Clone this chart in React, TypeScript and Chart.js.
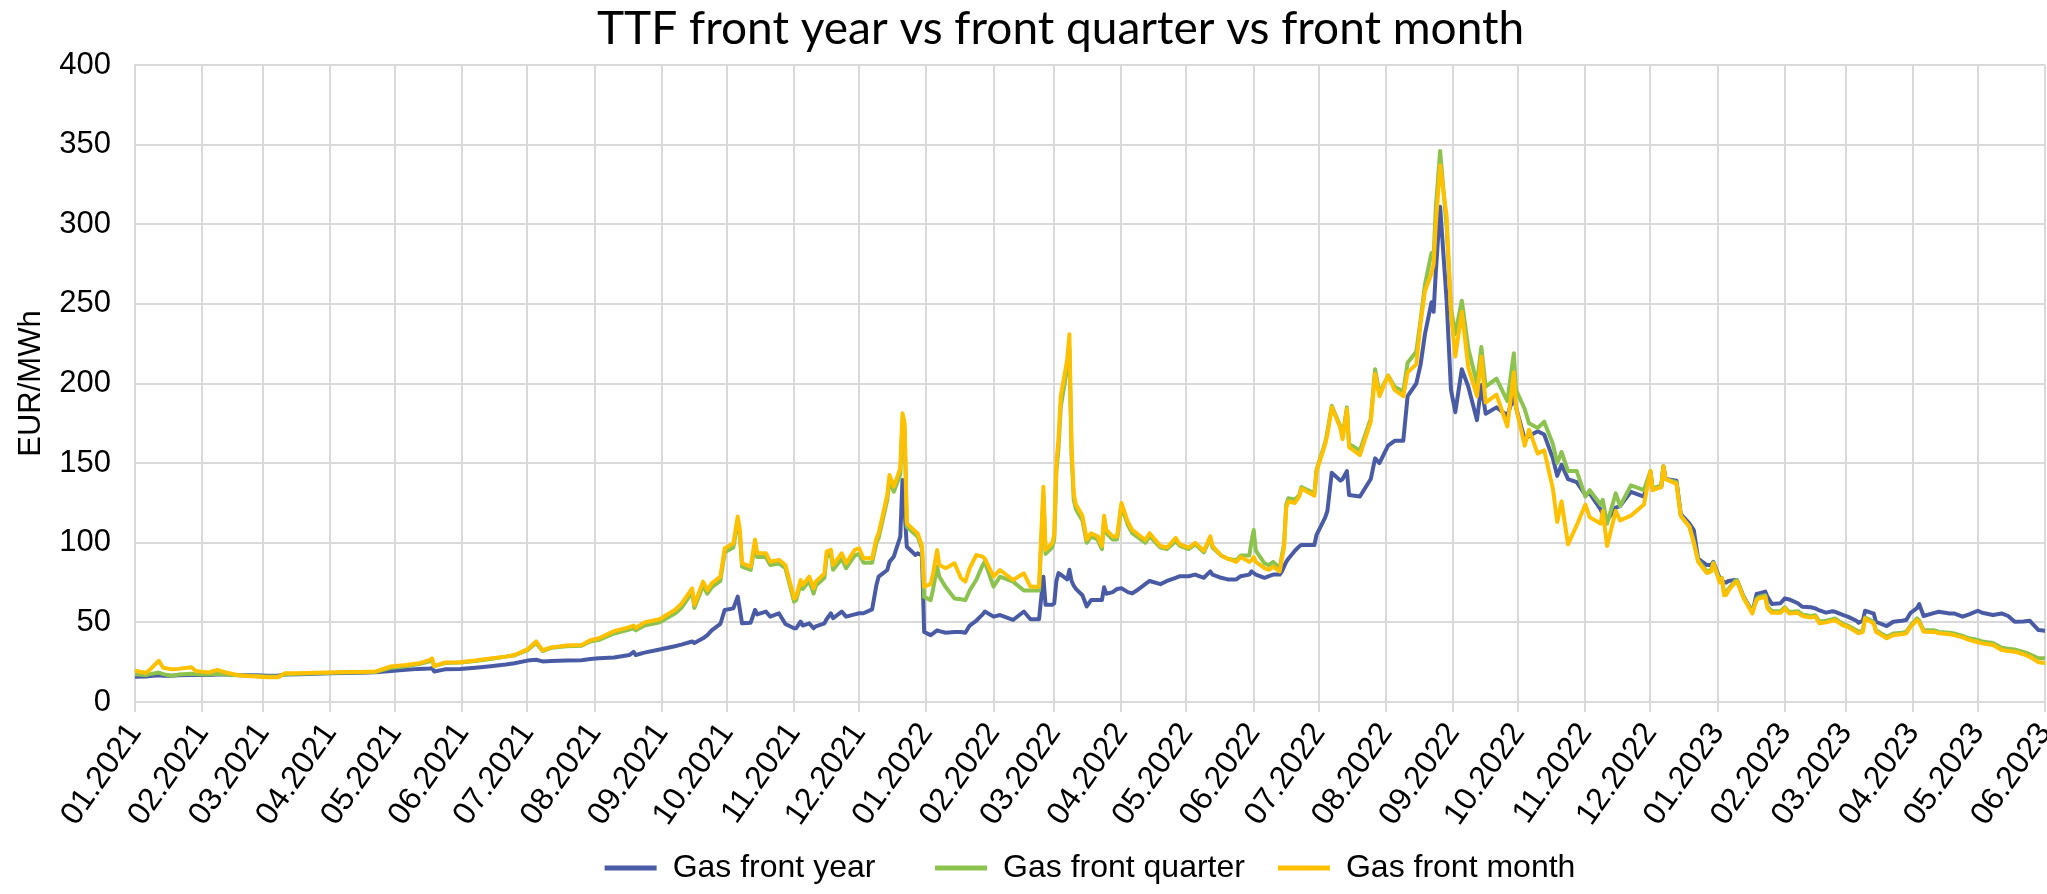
import React, { useEffect, useRef } from "react";
import { Chart, registerables } from "chart.js";

Chart.register(...registerables);

// ---------------- DATA ----------------
const dates: string[] = [
  // 2021
  "2021-01-01","2021-01-06","2021-01-08","2021-01-12","2021-01-14","2021-01-18","2021-01-21","2021-01-27","2021-01-29",
  "2021-02-04","2021-02-08","2021-02-12","2021-02-17","2021-02-22","2021-02-26",
  "2021-03-03","2021-03-08","2021-03-11","2021-03-18","2021-03-25",
  "2021-04-01","2021-04-08","2021-04-15","2021-04-22","2021-04-29",
  "2021-05-06","2021-05-12","2021-05-17","2021-05-18","2021-05-19","2021-05-24","2021-05-31",
  "2021-06-07","2021-06-14","2021-06-21","2021-06-25",
  "2021-07-01","2021-07-05","2021-07-08","2021-07-12","2021-07-19","2021-07-26","2021-07-30",
  "2021-08-03","2021-08-10","2021-08-17","2021-08-19","2021-08-20","2021-08-24","2021-08-31",
  "2021-09-07","2021-09-10","2021-09-15","2021-09-16","2021-09-20","2021-09-22","2021-09-24","2021-09-28","2021-09-30",
  "2021-10-04","2021-10-06","2021-10-07","2021-10-08","2021-10-12","2021-10-14","2021-10-15","2021-10-19","2021-10-21","2021-10-25","2021-10-28",
  "2021-11-01","2021-11-02","2021-11-04","2021-11-05","2021-11-08","2021-11-10","2021-11-11","2021-11-15","2021-11-16","2021-11-18","2021-11-19","2021-11-23","2021-11-25","2021-11-29",
  "2021-12-01","2021-12-03","2021-12-07","2021-12-09","2021-12-10","2021-12-14","2021-12-15","2021-12-17","2021-12-20","2021-12-21","2021-12-22","2021-12-23","2021-12-27","2021-12-28","2021-12-30","2021-12-31",
  // 2022
  "2022-01-03","2022-01-04","2022-01-06","2022-01-07","2022-01-10","2022-01-14","2022-01-17","2022-01-19","2022-01-21","2022-01-24","2022-01-27","2022-01-28",
  "2022-02-01","2022-02-04","2022-02-10","2022-02-15","2022-02-18","2022-02-22","2022-02-24","2022-02-25","2022-02-28",
  "2022-03-01","2022-03-02","2022-03-03","2022-03-04","2022-03-07","2022-03-08","2022-03-09","2022-03-10","2022-03-11","2022-03-14","2022-03-16","2022-03-18","2022-03-21","2022-03-23","2022-03-24","2022-03-25","2022-03-28","2022-03-30",
  "2022-04-01","2022-04-04","2022-04-06","2022-04-08","2022-04-12","2022-04-14","2022-04-19","2022-04-22","2022-04-26","2022-04-28",
  "2022-05-02","2022-05-05","2022-05-09","2022-05-12","2022-05-13","2022-05-17","2022-05-20","2022-05-24","2022-05-26","2022-05-30","2022-05-31",
  "2022-06-01","2022-06-02","2022-06-06","2022-06-08","2022-06-10","2022-06-13","2022-06-14","2022-06-15","2022-06-16","2022-06-17","2022-06-20","2022-06-22","2022-06-23","2022-06-29","2022-06-30",
  "2022-07-04","2022-07-05","2022-07-07","2022-07-11","2022-07-12","2022-07-14","2022-07-15","2022-07-20","2022-07-25","2022-07-27","2022-07-29",
  "2022-08-02","2022-08-05","2022-08-09","2022-08-11","2022-08-15","2022-08-17","2022-08-19","2022-08-22","2022-08-23","2022-08-24","2022-08-26","2022-08-29","2022-08-31",
  "2022-09-02","2022-09-05","2022-09-08","2022-09-12","2022-09-14","2022-09-16","2022-09-21","2022-09-26","2022-09-29","2022-09-30",
  "2022-10-04","2022-10-06","2022-10-10","2022-10-13","2022-10-17","2022-10-19","2022-10-21","2022-10-24","2022-10-28",
  "2022-11-01","2022-11-03","2022-11-08","2022-11-09","2022-11-11","2022-11-15","2022-11-17","2022-11-22","2022-11-28",
  "2022-12-01","2022-12-02","2022-12-06","2022-12-07","2022-12-08","2022-12-13","2022-12-15","2022-12-19","2022-12-21","2022-12-23","2022-12-27","2022-12-29","2022-12-30",
  // 2023
  "2023-01-02","2023-01-03","2023-01-04","2023-01-05","2023-01-06","2023-01-09","2023-01-10","2023-01-13","2023-01-17","2023-01-18","2023-01-19","2023-01-20","2023-01-23","2023-01-24","2023-01-26","2023-01-30",
  "2023-02-01","2023-02-03","2023-02-07","2023-02-09","2023-02-13","2023-02-15","2023-02-17","2023-02-20","2023-02-23","2023-02-24","2023-02-28",
  "2023-03-02","2023-03-06","2023-03-07","2023-03-09","2023-03-10","2023-03-13","2023-03-14","2023-03-15","2023-03-20","2023-03-23","2023-03-27","2023-03-29","2023-03-31",
  "2023-04-03","2023-04-04","2023-04-06","2023-04-11","2023-04-13","2023-04-18","2023-04-20","2023-04-24","2023-04-27",
  "2023-05-01","2023-05-03","2023-05-08","2023-05-12","2023-05-15","2023-05-18","2023-05-22","2023-05-25","2023-05-29",
  "2023-06-01",
];

const frontYear: number[] = [
  15.8, 16.0, 16.3, 16.8, 16.5, 16.5, 16.8, 17.0, 17.0,
  17.0, 17.2, 17.2, 17.0, 16.8, 16.8,
  16.5, 16.5, 17.3, 17.5, 17.8,
  18.0, 18.2, 18.3, 18.7, 19.5,
  20.2, 20.8, 21.0, 21.3, 19.2, 20.5, 20.7,
  21.5, 22.5, 23.5, 24.3,
  26.0, 26.5, 25.5, 25.8, 26.0, 26.2, 27.0,
  27.5, 28.0, 29.5, 31.5, 29.5, 31.0, 33.0,
  35.0, 36.0, 38.0, 37.0, 40.0, 42.0, 45.0, 49.0, 57.8,
  58.8, 66.2, 58.0, 49.4, 49.8, 57.8, 55.0, 56.8, 53.6, 55.7, 49.0,
  46.3, 46.3, 50.5, 48.0, 49.4, 46.3, 47.5, 49.4, 52.0, 55.7, 52.6, 56.8, 53.6, 55.0,
  55.7, 55.7, 58.2, 73.5, 78.7, 82.9, 88.0, 91.3, 103.8, 139.4, 120.0, 97.5, 92.3, 93.4, 92.0, 44.0,
  42.0, 43.0, 45.0, 44.5, 43.5, 44.0, 44.0, 43.5, 48.0, 51.0, 55.0, 56.8,
  53.6, 54.6, 51.5, 56.8, 52.0, 52.0, 78.7, 61.0, 61.0,
  62.0, 76.0, 81.0, 80.0, 77.0, 83.0, 76.0, 73.0, 71.0, 67.0, 60.0, 64.0, 64.0, 64.0, 72.0, 68.0, 69.0, 71.0,
  71.4, 69.0, 68.2, 70.0, 74.0, 76.0, 74.0, 76.0, 78.0, 79.0,
  79.0, 80.0, 78.0, 82.0, 80.0, 78.0, 77.0, 77.0, 79.0, 80.0, 82.0,
  81.0, 80.0, 78.0, 79.0, 80.0, 80.0, 82.0, 85.0, 88.0, 90.0, 95.0, 97.7, 98.6, 98.6, 105.0,
  116.0, 120.0, 144.0, 139.0, 140.0, 145.0, 130.0, 129.0, 140.0, 153.0, 150.0,
  161.0, 164.0, 164.0, 192.0, 200.0, 212.0, 231.0, 251.0, 245.0, 270.0, 311.0, 252.0, 196.0,
  182.0, 209.0, 198.0, 177.0, 199.0, 181.0, 185.0, 180.0, 192.0, 185.0,
  165.0, 167.0, 170.0, 168.0, 153.0, 142.0, 149.0, 140.0, 138.0,
  130.0, 131.0, 121.0, 118.0, 114.0, 122.0, 123.0, 132.0, 129.0,
  144.0, 134.0, 135.0, 148.0, 140.0, 139.0, 118.0, 112.0, 108.0, 90.0, 86.0, 86.0, 88.0,
  77.6, 76.0, 75.5, 75.0, 76.0, 76.6, 76.0, 66.1, 56.7, 62.0, 68.0, 68.2, 69.3, 66.0, 61.5, 62.0,
  65.1, 64.4, 62.0, 59.8, 59.5, 58.8, 57.5, 56.1, 57.0, 56.7, 54.5,
  53.6, 51.0, 49.8, 51.0, 57.3, 56.0, 55.6, 50.4, 47.7, 50.4, 51.0, 51.5, 56.0,
  59.0, 61.5, 54.0, 56.0, 56.7, 55.6, 55.6, 53.6, 55.0,
  57.3, 56.0, 54.6, 55.6, 54.0, 50.4, 50.5, 51.0, 45.2,
  44.8,
];

const frontQuarter: number[] = [
  17.4, 17.0, 17.5, 18.5, 17.5, 16.5, 17.2, 17.8, 17.5,
  17.3, 17.8, 17.3, 16.8, 16.5, 16.3,
  16.0, 16.0, 17.5, 17.8, 18.0,
  18.3, 18.5, 18.7, 19.0, 21.5,
  22.5, 23.8, 25.5, 26.5, 22.5, 24.5, 24.8,
  25.8, 27.0, 28.5, 29.2,
  32.5, 37.0, 32.0, 34.0, 35.0, 35.3, 38.0,
  39.0, 43.0, 45.5, 46.5, 45.0, 48.0, 50.0,
  55.5, 59.0, 69.0, 59.0, 73.0, 68.0, 72.0, 76.0, 94.0,
  97.0, 113.0, 105.0, 85.0, 83.0, 99.0, 91.0, 91.0, 86.0, 87.0, 84.0,
  63.0, 64.0, 74.0, 71.0, 76.0, 68.0, 73.0, 78.0, 91.0, 93.0, 83.0, 90.0, 84.0, 92.0,
  93.0, 87.5, 87.5, 100.0, 103.0, 127.0, 139.0, 132.0, 143.0, 176.0, 170.0, 110.0, 105.0, 104.0, 96.0, 66.0,
  64.0, 70.0, 85.0, 78.7, 72.0, 65.0, 64.5, 64.0, 70.0, 76.6, 86.0, 88.0,
  72.4, 78.7, 75.6, 70.0, 70.0, 70.0, 130.0, 93.0, 97.0,
  102.0, 145.0, 160.0, 185.0, 210.0, 222.0, 155.0, 127.0, 121.0, 114.0, 100.0, 104.0, 102.0, 96.0, 115.0, 106.0, 102.0, 102.0,
  123.0, 111.0, 106.0, 104.0, 100.0, 104.0, 97.0, 96.0, 101.0, 98.0,
  96.0, 99.0, 94.0, 103.0, 97.0, 92.0, 90.0, 89.0, 92.0, 92.0, 101.0,
  108.0, 95.0, 87.0, 86.0, 88.0, 84.0, 92.0, 99.0, 124.0, 128.0, 127.0, 130.0, 135.0, 131.0, 146.0,
  163.0, 170.0, 186.0, 173.0, 167.0, 185.0, 162.0, 158.0, 178.0, 209.0, 194.0,
  205.0, 198.0, 195.0, 213.0, 220.0, 240.0, 262.0, 282.0, 280.0, 310.0, 346.0, 298.0, 247.0,
  231.0, 252.0, 222.0, 200.0, 223.0, 198.0, 203.0, 189.0, 219.0, 196.0,
  184.0, 175.0, 172.0, 176.0, 162.0, 150.0, 157.0, 145.0, 145.0,
  129.0, 133.0, 124.0, 127.0, 112.0, 131.0, 123.0, 136.0, 133.0,
  145.0, 134.0, 136.0, 148.0, 140.0, 138.0, 117.0, 110.0, 101.0, 89.0, 82.0, 83.0, 87.5,
  76.0, 78.0, 68.0, 68.5, 71.0, 76.0, 76.5, 66.0, 56.5, 61.0, 65.0, 66.0, 67.0, 60.0, 57.0, 57.0,
  59.5, 56.5, 57.0, 55.0, 54.0, 54.5, 50.5, 51.0, 52.0, 52.5, 49.0,
  48.0, 45.0, 44.0, 45.0, 53.0, 51.0, 50.0, 45.0, 41.0, 43.0, 43.5, 44.0, 48.0,
  52.5, 51.0, 45.0, 45.0, 44.0, 43.5, 43.0, 41.5, 40.0,
  39.0, 38.0, 37.0, 34.0, 33.5, 33.0, 31.5, 30.0, 27.5,
  27.4,
];

const frontMonth: number[] = [
  19.7, 18.2, 20.5, 25.9, 21.5, 20.5, 20.8, 21.8, 19.5,
  18.6, 20.2, 18.5, 17.0, 16.3, 16.0,
  15.6, 15.5, 18.0, 18.0, 18.3,
  18.5, 18.8, 18.8, 19.2, 22.3,
  23.2, 24.3, 26.5, 27.4, 22.5, 24.8, 25.0,
  26.0, 27.4, 28.5, 29.5,
  33.0, 38.0, 32.5, 34.3, 35.5, 35.8, 38.8,
  40.0, 44.5, 47.0, 48.0, 46.5, 50.0, 52.0,
  57.8, 61.6, 71.4, 61.0, 75.6, 70.3, 74.5, 78.7, 96.5,
  99.6, 116.4, 108.0, 87.1, 85.0, 102.0, 93.4, 93.4, 88.1, 89.2, 86.0,
  65.1, 66.2, 76.6, 73.5, 78.7, 71.4, 75.6, 80.8, 94.4, 95.5, 86.0, 93.4, 87.1, 95.5,
  96.5, 90.2, 90.2, 102.8, 105.9, 130.0, 142.5, 135.2, 146.7, 181.3, 175.0, 112.2, 107.0, 105.9, 98.0, 72.4,
  74.0, 79.8, 95.5, 86.0, 84.0, 87.1, 77.7, 75.6, 84.0, 92.3, 91.3, 90.0,
  78.7, 82.9, 76.6, 80.8, 72.4, 72.4, 135.2, 95.5, 99.6,
  105.0, 150.0, 166.0, 192.0, 215.0, 231.0, 160.0, 131.0, 124.0, 117.0, 102.0, 106.0, 104.0, 98.0, 117.0, 108.0, 104.0, 104.0,
  125.0, 113.0, 108.0, 106.0, 101.7, 106.0, 98.0, 97.0, 103.0, 99.0,
  97.0, 100.0, 95.0, 104.0, 98.0, 92.0, 90.0, 88.0, 91.0, 88.0, 89.0,
  91.0, 88.0, 84.0, 83.0, 85.0, 82.0, 90.0, 97.0, 122.0, 126.0, 125.0, 128.9, 134.0, 129.5, 145.0,
  162.0, 168.0, 185.0, 172.0, 165.0, 184.0, 160.0, 155.0, 176.0, 206.0, 192.0,
  205.0, 196.0, 192.0, 207.0, 212.0, 238.0, 258.0, 269.0, 275.0, 300.0, 337.0, 305.0, 244.0,
  217.0, 245.0, 210.0, 192.0, 217.0, 188.0, 193.0, 173.0, 207.0, 185.0,
  161.0, 171.0, 156.0, 158.0, 134.0, 113.0, 126.0, 99.0, 111.0,
  124.0, 116.0, 112.0, 120.0, 98.0, 120.0, 114.0, 117.0, 124.0,
  145.0, 133.0, 135.0, 148.0, 140.0, 137.0, 117.0, 110.0, 100.0, 88.0, 81.0, 82.0, 87.0,
  75.0, 77.6, 67.0, 67.2, 70.0, 75.0, 75.5, 65.1, 55.6, 60.0, 64.0, 65.0, 66.0, 58.8, 56.0, 56.0,
  58.8, 55.6, 56.0, 54.0, 53.0, 53.6, 49.4, 50.0, 51.0, 51.5, 48.0,
  47.3, 44.0, 43.1, 44.1, 52.5, 50.0, 49.4, 44.1, 40.0, 42.0, 42.5, 43.1, 47.3,
  51.5, 50.0, 44.1, 44.0, 43.1, 42.5, 42.0, 40.6, 39.0,
  37.5, 36.8, 35.8, 32.6, 32.0, 31.6, 30.0, 28.4, 25.0,
  24.5,
];

const monthLabels: string[] = [
  "01.2021","02.2021","03.2021","04.2021","05.2021","06.2021","07.2021","08.2021","09.2021","10.2021","11.2021","12.2021",
  "01.2022","02.2022","03.2022","04.2022","05.2022","06.2022","07.2022","08.2022","09.2022","10.2022","11.2022","12.2022",
  "01.2023","02.2023","03.2023","04.2023","05.2023","06.2023",
];

const seriesNames = ["Gas front year", "Gas front quarter", "Gas front month"];
const seriesColors = ["#4A5BA6", "#8CC34E", "#FFC000"];
const titleText = "TTF front year vs front quarter vs front month";
const yTitle = "EUR/MWh";

// ---------------- HELPERS ----------------
const DAY0 = Date.UTC(2021, 0, 1);
const MS_DAY = 86400000;
const dayOf = (iso: string) =>
  (Date.UTC(+iso.slice(0, 4), +iso.slice(5, 7) - 1, +iso.slice(8, 10)) - DAY0) / MS_DAY;
const monthDay = (lab: string) =>
  (Date.UTC(+lab.slice(3), +lab.slice(0, 2) - 1, 1) - DAY0) / MS_DAY;

const GRID = "#D9D9D9";
const FONT_FAMILY = '"Liberation Sans", Arial, sans-serif';
const TICK_FONT = { family: FONT_FAMILY, size: 31 };
const XTICK_FONT = { family: FONT_FAMILY, size: 32 };
const LEGEND_FONT = { family: FONT_FAMILY, size: 32 };

export default function App() {
  const ref = useRef<HTMLCanvasElement | null>(null);

  useEffect(() => {
    if (!ref.current) return;
    const tickPos = monthLabels.map(monthDay);
    const labelAt = new Map<number, string>();
    tickPos.forEach((p, i) => labelAt.set(p, monthLabels[i]));
    const mk = (vals: number[]) => dates.map((d, i) => ({ x: dayOf(d), y: vals[i] }));
    const all = [frontYear, frontQuarter, frontMonth];

    const chart = new Chart(ref.current, {
      type: "line",
      data: {
        datasets: all.map((vals, i) => ({
          label: seriesNames[i],
          data: mk(vals),
          borderColor: seriesColors[i],
          backgroundColor: seriesColors[i],
          borderWidth: 4,
          pointRadius: 0,
          tension: 0,
          fill: false,
          borderJoinStyle: "round" as const,
          borderCapStyle: "round" as const,
          order: 3 - i,
        })),
      },
      options: {
        animation: false,
        responsive: false,
        maintainAspectRatio: false,
        layout: { padding: 0 },
        scales: {
          x: {
            type: "linear",
            min: 0,
            max: tickPos[tickPos.length - 1],
            afterBuildTicks: (s: any) => {
              s.ticks = tickPos.map((v) => ({ value: v }));
            },
            afterFit: (s: any) => {
              s.height = 117;
              s.paddingRight = 2;
              s.paddingLeft = 0;
              // let the rotated labels extend past the axis box (no clipping)
              s._computeLabelArea = () => undefined;
            },
            ticks: {
              autoSkip: false,
              maxRotation: 55,
              minRotation: 55,
              padding: 4,
              color: "#000",
              font: XTICK_FONT,
              callback: (v: any) => labelAt.get(Number(v)) ?? "",
            },
            grid: { color: GRID, lineWidth: 2, tickLength: 10, drawTicks: true },
            border: { color: GRID, width: 2 },
          },
          y: {
            min: 0,
            max: 400,
            afterFit: (s: any) => {
              s.width = 135;
            },
            ticks: { stepSize: 50, padding: 24, color: "#000", font: TICK_FONT },
            grid: { color: GRID, lineWidth: 2, drawTicks: false },
            border: { color: GRID, width: 2 },
            title: {
              display: true,
              text: yTitle,
              color: "#000",
              font: TICK_FONT,
              padding: { top: 13, bottom: 0 },
            },
          },
        },
        plugins: {
          title: {
            display: true,
            // trailing spaces nudge the centred title slightly left, as in the original
            text: titleText + "     ",
            fullSize: false,
            color: "#000",
            font: { family: "Lato, Carlito, sans-serif", size: 46, weight: "normal" },
            padding: { top: 2, bottom: 7.8 },
          },
          legend: {
            position: "bottom",
            fullSize: false,
            labels: {
              boxWidth: 52,
              boxHeight: 5,
              padding: 33,
              color: "#000",
              font: LEGEND_FONT,
              sort: (a: any, b: any) => a.datasetIndex - b.datasetIndex,
              generateLabels: (c: any) =>
                (Chart.defaults.plugins.legend.labels.generateLabels as any)(c).map((it: any, i: number, arr: any[]) => ({
                  ...it,
                  // trailing spaces on the last entry nudge the centred row slightly left
                  text: i === arr.length - 1 ? it.text + "   " : it.text,
                  lineWidth: 0,
                  fillStyle: it.strokeStyle,
                })),
            },
          },
          tooltip: { enabled: false },
        },
      } as any,
    });
    return () => chart.destroy();
  }, []);

  return (
    <div style={{ position: "fixed", left: 0, top: 0, width: 2047, height: 894, background: "#fff" }}>
      <canvas ref={ref} width={2047} height={894} style={{ width: 2047, height: 894, display: "block" }} />
    </div>
  );
}
